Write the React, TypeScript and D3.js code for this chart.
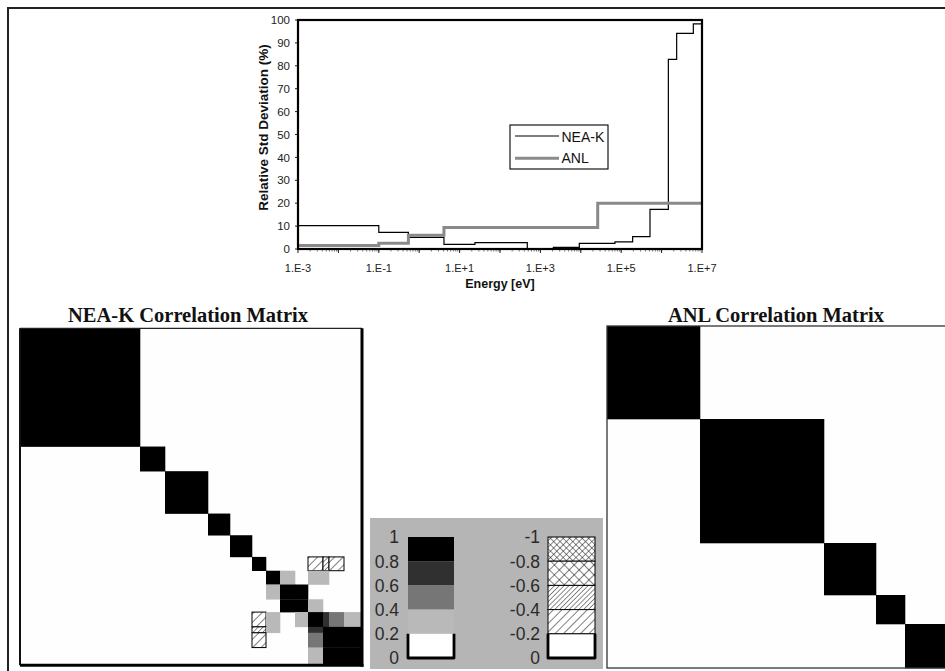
import React from 'react';
import * as d3 from 'd3';

const W = 945;
const H = 671;
const SANS = '"Liberation Sans", Arial, sans-serif';
const SERIF = '"Liberation Serif", "Times New Roman", serif';

// ---------- Top chart data ----------
const nkEdges = [1e-3, 0.1, 0.54, 4.1, 24, 474, 2090, 9190, 7.0e4, 1.92e5, 5.16e5, 1.47e6, 2.36e6, 6.1e6, 1e7];
const nkValues = [10.2, 7.3, 5.1, 2.0, 2.8, 0.2, 0.7, 2.5, 3.1, 5.4, 17.3, 82.8, 94.2, 98.3];
const anlEdges = [1e-3, 0.1, 0.54, 4.1, 2.62e4, 1e7];
const anlValues = [1.5, 2.5, 6.0, 9.4, 20.0];
const xTickValues = [1e-3, 1e-1, 1e1, 1e3, 1e5, 1e7];
const xTickLabels = ['1.E-3', '1.E-1', '1.E+1', '1.E+3', '1.E+5', '1.E+7'];
const yTickValues = [0, 10, 20, 30, 40, 50, 60, 70, 80, 90, 100];
const seriesNames = ['NEA-K', 'ANL'];

// ---------- Correlation matrices (relative group widths + off-diagonal entries) ----------
const nkGroupWidths = [120, 25, 43, 22, 22, 14, 14, 15, 13, 15, 6, 15, 18];
const nkOffDiag: [number, number, number][] = [
  [7, 8, 1.0], [10, 11, 1.0], [10, 12, 1.0], [11, 12, 1.0],
  [6, 7, 0.3], [6, 9, 0.3], [6, 10, 0.3], [8, 9, 0.3],
  [9, 10, 0.7], [9, 11, 0.5], [9, 12, 0.3],
  [5, 9, -0.3], [5, 10, -0.5], [5, 11, -0.3],
];
const anlGroupWidths = [93, 124, 52, 29, 44];
const anlOffDiag: [number, number, number][] = [];

// ---------- Scale legend ----------
const legendPos = [1, 0.8, 0.6, 0.4, 0.2, 0];
const legendNeg = [-1, -0.8, -0.6, -0.4, -0.2, 0];
const legendPosLabels = ['1', '0.8', '0.6', '0.4', '0.2', '0'];
const legendNegLabels = ['-1', '-0.8', '-0.6', '-0.4', '-0.2', '0'];

function fillFor(v: number): string | null {
  if (v >= 0.8) return '#000000';
  if (v >= 0.6) return '#303030';
  if (v >= 0.4) return '#767676';
  if (v >= 0.2) return '#b9b9b9';
  if (v > -0.2) return null;
  if (v > -0.4) return 'url(#hatchSparse)';
  if (v > -0.6) return 'url(#hatchDense)';
  if (v > -0.8) return 'url(#crossSparse)';
  return 'url(#crossDense)';
}

function buildMatrix(n: number, off: [number, number, number][]) {
  const m: number[][] = d3.range(n).map((i) => d3.range(n).map((j) => (i === j ? 1 : 0)));
  off.forEach(([i, j, v]) => {
    m[i][j] = v;
    m[j][i] = v;
  });
  return m;
}

function Matrix(props: {
  widths: number[];
  off: [number, number, number][];
  x0: number; x1: number; y0: number; y1: number;
  title: string; titleX: number; titleY: number;
  heavy: boolean;
}) {
  const { widths, off, x0, x1, y0, y1, title, titleX, titleY, heavy } = props;
  const edges = [0, ...Array.from(d3.cumsum(widths))];
  const total = edges[edges.length - 1];
  const sx = d3.scaleLinear().domain([0, total]).range([x0, x1]);
  const sy = d3.scaleLinear().domain([0, total]).range([y0, y1]);
  const m = buildMatrix(widths.length, off);
  const cells: JSX.Element[] = [];
  m.forEach((row, i) =>
    row.forEach((v, j) => {
      const f = fillFor(v);
      if (!f) return;
      const rx = sx(edges[j]);
      const ry = sy(edges[i]);
      const rw = sx(edges[j + 1]) - rx;
      const rh = sy(edges[i + 1]) - ry;
      if (v < 0) {
        cells.push(
          <rect key={`c${i}-${j}`} x={rx} y={ry} width={rw} height={rh} fill={f} stroke="#000" strokeWidth={1} />
        );
      } else {
        cells.push(<rect key={`c${i}-${j}`} x={rx} y={ry} width={rw + 0.3} height={rh + 0.3} fill={f} />);
      }
    })
  );
  return (
    <g>
      <text x={titleX} y={titleY} textAnchor="middle" fontFamily={SERIF} fontWeight="bold" fontSize={20.5} fill="#111">
        {title}
      </text>
      <rect x={x0} y={y0} width={x1 - x0} height={y1 - y0} fill="#fefefe" />
      {cells}
      {heavy ? (
        <g>
          <line x1={x0} x2={x1} y1={y0} y2={y0} stroke="#222" strokeWidth={1.2} />
          <line x1={x0} x2={x0} y1={y0} y2={y1} stroke="#111" strokeWidth={2} />
          <line x1={x1} x2={x1} y1={y0} y2={y1 + 1.5} stroke="#000" strokeWidth={3} />
          <line x1={x0} x2={x1 + 1.5} y1={y1} y2={y1} stroke="#000" strokeWidth={3} />
        </g>
      ) : (
        <rect x={x0} y={y0} width={x1 - x0} height={y1 - y0} fill="none" stroke="#333" strokeWidth={1.3} />
      )}
    </g>
  );
}

function ScaleLegend() {
  const top = 537;
  const bottom = 658;
  const ys = d3.scaleLinear().domain([1, 0]).range([top, bottom]);
  const ysN = d3.scaleLinear().domain([-1, 0]).range([top, bottom]);
  const lx0 = 408, lx1 = 454;
  const rx0 = 548, rx1 = 595;
  const segs = d3.range(legendPos.length - 1);
  return (
    <g>
      <rect x={370} y={518} width={233} height={151} fill="#b5b5b5" />
      {segs.map((i) => {
        const a = legendPos[i], b = legendPos[i + 1];
        const f = fillFor((a + b) / 2) || '#ffffff';
        return <rect key={`p${i}`} x={lx0} y={ys(a)} width={lx1 - lx0} height={ys(b) - ys(a)} fill={f} />;
      })}
      <path
        d={`M${lx0},${ys(0.2)} L${lx0},${ys(0)} L${lx1},${ys(0)} L${lx1},${ys(0.2)}`}
        fill="none" stroke="#000" strokeWidth={2.8} strokeLinejoin="round"
      />
      {legendPos.map((v, i) => (
        <text key={`pl${i}`} x={399} y={ys(v)} dy="0.36em" textAnchor="end" fontFamily={SANS} fontSize={17.5} fill="#2a2a2a">
          {legendPosLabels[i]}
        </text>
      ))}
      {segs.map((i) => {
        const a = legendNeg[i], b = legendNeg[i + 1];
        const f = fillFor((a + b) / 2) || '#ffffff';
        return (
          <g key={`n${i}`}>
            <rect x={rx0} y={ysN(a)} width={rx1 - rx0} height={ysN(b) - ysN(a)} fill="#fff" />
            <rect x={rx0} y={ysN(a)} width={rx1 - rx0} height={ysN(b) - ysN(a)} fill={f} stroke="#000" strokeWidth={1} />
          </g>
        );
      })}
      <path
        d={`M${rx0},${ysN(-0.2)} L${rx0},${ysN(0)} L${rx1},${ysN(0)} L${rx1},${ysN(-0.2)}`}
        fill="none" stroke="#000" strokeWidth={2.8} strokeLinejoin="round"
      />
      {legendNeg.map((v, i) => (
        <text key={`nl${i}`} x={540} y={ysN(v)} dy="0.36em" textAnchor="end" fontFamily={SANS} fontSize={17.5} fill="#2a2a2a">
          {legendNegLabels[i]}
        </text>
      ))}
    </g>
  );
}

function TopChart() {
  const L = 298, R = 702, T = 20, B = 249;
  const x = d3.scaleLog().domain([1e-3, 1e7]).range([L, R]);
  const y = d3.scaleLinear().domain([0, 100]).range([B, T]);
  const stepLine = d3
    .line<[number, number]>()
    .x((d) => x(d[0]))
    .y((d) => y(d[1]))
    .curve(d3.curveStepAfter);
  const toPts = (edges: number[], vals: number[]): [number, number][] => [
    ...vals.map((v, i) => [edges[i], v] as [number, number]),
    [edges[edges.length - 1], vals[vals.length - 1]],
  ];
  const minor = x.ticks(40).filter((v) => v > 1e-3 && v < 1e7);
  const decades = d3.range(-3, 8).map((k) => Math.pow(10, k));
  return (
    <g>
      <defs>
        <clipPath id="plotClip">
          <rect x={L} y={T} width={R - L} height={B - T} />
        </clipPath>
      </defs>
      <rect x={L} y={T} width={R - L} height={B - T} fill="#fff" />
      {minor.map((v, i) => (
        <line key={`mn${i}`} x1={x(v)} x2={x(v)} y1={B} y2={B + 2.5} stroke="#555" strokeWidth={0.8} />
      ))}
      {decades.map((v, i) => (
        <line key={`dc${i}`} x1={x(v)} x2={x(v)} y1={B} y2={B + 4} stroke="#222" strokeWidth={1} />
      ))}
      {yTickValues.map((v) => (
        <line key={`yt${v}`} x1={L - 3} x2={L} y1={y(v)} y2={y(v)} stroke="#222" strokeWidth={1} />
      ))}
      <g clipPath="url(#plotClip)">
        <path d={stepLine(toPts(nkEdges, nkValues)) || ''} fill="none" stroke="#000" strokeWidth={1.2} />
        <path d={stepLine(toPts(anlEdges, anlValues)) || ''} fill="none" stroke="#8a8a8a" strokeWidth={3} />
      </g>
      <rect x={L} y={T} width={R - L} height={B - T} fill="none" stroke="#000" strokeWidth={2.2} />
      {yTickValues.map((v) => (
        <text key={`yl${v}`} x={290} y={y(v)} dy="0.36em" textAnchor="end" fontFamily={SANS} fontSize={11.5} fill="#222">
          {v}
        </text>
      ))}
      {xTickValues.map((v, i) => (
        <text key={`xl${i}`} x={x(v)} y={271.5} textAnchor="middle" fontFamily={SANS} fontSize={11} fill="#222">
          {xTickLabels[i]}
        </text>
      ))}
      <text x={(L + R) / 2} y={288} textAnchor="middle" fontFamily={SANS} fontWeight="bold" fontSize={12.5} fill="#111">
        Energy [eV]
      </text>
      <text
        transform={`translate(267.5,${127.5}) rotate(-90)`}
        textAnchor="middle" fontFamily={SANS} fontWeight="bold" fontSize={13.5} fill="#111"
      >
        Relative Std Deviation (%)
      </text>
      <rect x={510} y={125} width={98} height={44} fill="#fff" stroke="#000" strokeWidth={1.1} />
      <line x1={515} x2={559} y1={136} y2={136} stroke="#000" strokeWidth={1.2} />
      <line x1={515} x2={559} y1={158.3} y2={158.3} stroke="#8a8a8a" strokeWidth={3} />
      <text x={561.5} y={141.5} fontFamily={SANS} fontSize={14} fill="#111">{seriesNames[0]}</text>
      <text x={561.5} y={163.3} fontFamily={SANS} fontSize={14} fill="#111">{seriesNames[1]}</text>
    </g>
  );
}

export default function App() {
  return (
    <svg
      width={W}
      height={H}
      viewBox={`0 0 ${W} ${H}`}
      style={{ position: 'absolute', left: 0, top: 0, background: '#fff' }}
    >
      <defs>
        <pattern id="hatchSparse" width={6} height={6} patternUnits="userSpaceOnUse" patternTransform="rotate(45)">
          <rect width={6} height={6} fill="#fff" />
          <line x1={0} y1={0} x2={0} y2={6} stroke="#000" strokeWidth={1} />
        </pattern>
        <pattern id="hatchDense" width={3.4} height={3.4} patternUnits="userSpaceOnUse" patternTransform="rotate(45)">
          <rect width={3.4} height={3.4} fill="#fff" />
          <line x1={0} y1={0} x2={0} y2={3.4} stroke="#000" strokeWidth={0.9} />
        </pattern>
        <pattern id="crossSparse" width={7} height={7} patternUnits="userSpaceOnUse" patternTransform="rotate(45)">
          <rect width={7} height={7} fill="#fff" />
          <line x1={0} y1={0} x2={0} y2={7} stroke="#000" strokeWidth={1} />
          <line x1={0} y1={0} x2={7} y2={0} stroke="#000" strokeWidth={1} />
        </pattern>
        <pattern id="crossDense" width={4.5} height={4.5} patternUnits="userSpaceOnUse" patternTransform="rotate(45)">
          <rect width={4.5} height={4.5} fill="#fff" />
          <line x1={0} y1={0} x2={0} y2={4.5} stroke="#000" strokeWidth={0.9} />
          <line x1={0} y1={0} x2={4.5} y2={0} stroke="#000" strokeWidth={0.9} />
        </pattern>
      </defs>
      <rect x={0} y={0} width={W} height={H} fill="#fff" />
      <rect x={8} y={8} width={1000} height={1000} fill="none" stroke="#222" strokeWidth={2} />
      <TopChart />
      <Matrix
        widths={nkGroupWidths} off={nkOffDiag}
        x0={20} x1={362} y0={328.3} y1={665.3}
        title="NEA-K Correlation Matrix" titleX={188} titleY={321.5} heavy={true}
      />
      <Matrix
        widths={anlGroupWidths} off={anlOffDiag}
        x0={607} x1={949} y0={326} y1={668}
        title="ANL Correlation Matrix" titleX={776} titleY={321.5} heavy={false}
      />
      <ScaleLegend />
    </svg>
  );
}
